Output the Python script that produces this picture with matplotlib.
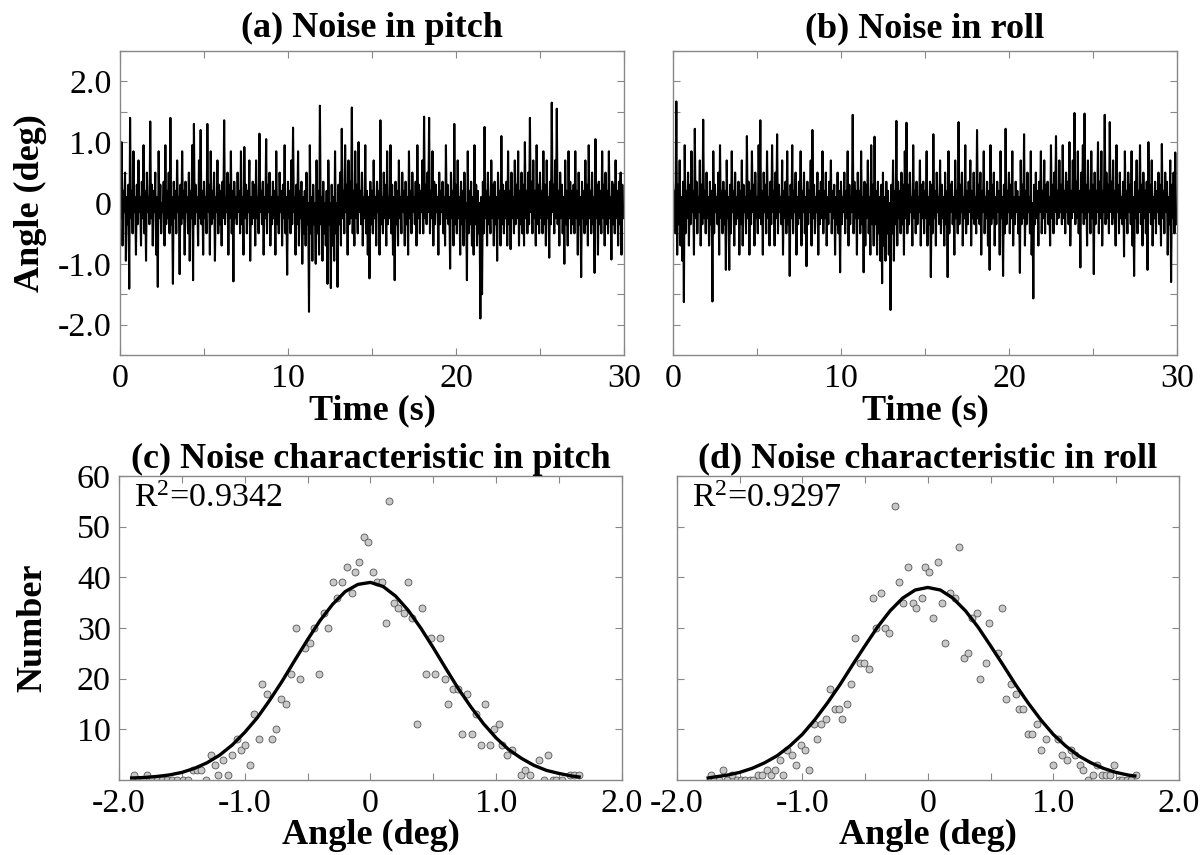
# -*- coding: utf-8 -*-
"""Noise in pitch and roll, with histograms and Gaussian fits."""

import numpy as np
import matplotlib.pyplot as plt

# Data -----------------------------------------------------------------

# The noise traces are digitised as alternating upper and lower
# excursions: *_hi at t = 0, 0.1, 0.2 ... s, *_lo half a step later.
dt = 0.1

pitch_hi = [
    0.35, 1.0, 0.2, 0.5, 0.1, 0.3, 1.4, 0.2, 0.85, 0.1,
    0.3, 0.7, 0.1, 0.35, 0.95, 0.2, 0.5, 0.1, 1.34, 0.3,
    0.2, 0.5, 0.1, 0.85, 0.3, 0.0, 0.35, 0.95, 0.2, 0.5,
    1.4, 0.1, 0.35, 0.2, 0.7, 0.1, 0.3, 0.85, 0.2, 0.35,
    0.1, 0.5, 0.2, 0.95, 1.3, 0.3, 0.1, 0.7, 1.2, 0.2,
    0.35, 0.1, 1.3, 0.3, 0.85, 0.2, 0.5, 0.1, 0.7, 0.3,
    0.2, 0.35, 1.36, 0.1, 0.5, 0.3, 0.85, 0.2, 0.35, 0.1,
    0.5, 0.2, 0.85, 0.1, 0.92, 0.3, 0.2, 0.7, 0.1, 0.35,
    0.3, 0.7, 0.1, 1.14, 0.2, 0.35, 0.1, 1.05, 0.3, 0.5,
    0.1, 0.35, 0.2, 0.85, 0.1, 0.5, 0.2, 0.3, 0.95, 0.1,
    0.35, 0.2, 0.7, 1.24, 0.1, 0.3, 0.85, 0.2, 0.35, 0.1,
    0.2, 0.5, 0.0, 0.95, 0.1, 0.3, 0.0, 0.7, 0.2, 1.6,
    0.1, 0.35, 0.0, 0.2, 0.7, 0.0, 0.3, 0.1, 0.85, 0.0,
    0.3, 0.5, 1.22, 0.2, 0.95, 0.3, 0.7, 0.35, 1.57, 0.2,
    0.85, 0.3, 1.0, 0.2, 0.5, 0.1, 0.95, 0.2, 0.1, 0.35,
    0.2, 0.7, 0.1, 0.35, 0.2, 1.36, 0.1, 0.5, 0.3, 0.85,
    0.1, 0.95, 0.3, 0.1, 0.35, 0.2, 0.7, 0.1, 0.5, 0.2,
    0.35, 0.1, 0.85, 0.2, 0.5, 0.1, 0.35, 0.95, 0.3, 0.2,
    0.7, 1.42, 0.3, 0.5, 1.4, 0.2, 0.85, 0.35, 0.3, 0.1,
    0.5, 0.2, 0.35, 0.1, 0.95, 0.3, 0.1, 0.5, 0.2, 1.3,
    0.3, 0.7, 0.1, 0.35, 0.2, 0.5, 0.0, 0.85, 0.2, 0.35,
    0.1, 0.95, 0.3, 0.2, 0.0, 0.1, 0.35, 1.25, 0.2, 0.5,
    0.1, 0.7, 0.3, 0.35, 0.1, 0.5, 0.2, 1.1, 0.3, 0.2,
    0.35, 0.85, 0.2, 0.5, 0.1, 0.7, 0.3, 0.85, 0.2, 0.5,
    0.3, 1.0, 0.2, 0.5, 1.4, 0.35, 0.7, 0.2, 0.95, 0.3,
    0.5, 0.2, 0.85, 0.3, 0.7, 0.1, 0.35, 1.65, 0.3, 0.7,
    1.55, 0.2, 0.5, 0.3, 0.1, 0.7, 0.2, 0.85, 0.35, 0.2,
    0.3, 0.85, 0.2, 0.5, 0.1, 0.35, 0.2, 0.7, 0.3, 0.95,
    0.2, 0.5, 0.1, 1.05, 0.3, 0.35, 0.2, 0.85, 0.3, 0.5,
    0.2, 0.85, 0.1, 0.35, 0.3, 0.7, 0.2, 0.35, 0.5, 0.3,
]
pitch_lo = [
    -0.25, -0.7, -0.15, -0.95, -0.35, -1.41, -0.25, -0.5, -0.15, -0.85,
    -0.35, -0.15, -0.7, -0.25, -0.5, -0.95, -0.15, -0.35, -0.25, -0.7,
    -0.15, -0.85, -1.38, -0.25, -0.5, -0.15, -0.7, -0.35, -0.25, -0.5,
    -0.35, -1.33, -0.25, -0.5, -0.15, -1.17, -0.35, -0.25, -0.85, -0.15,
    -0.5, -0.95, -0.25, -1.27, -0.35, -0.15, -0.7, -0.25, -0.35, -0.85,
    -0.25, -0.5, -0.15, -0.85, -0.35, -0.25, -0.95, -0.15, -0.5, -0.35,
    -0.7, -0.25, -0.35, -0.15, -0.85, -0.25, -0.5, -1.29, -0.25, -0.35,
    -0.15, -0.5, -0.35, -0.85, -0.25, -0.5, -0.15, -0.95, -0.35, -0.25,
    -0.7, -0.25, -0.5, -0.15, -0.35, -0.85, -0.25, -0.5, -0.15, -0.7,
    -0.35, -0.25, -0.85, -0.35, -0.5, -0.15, -0.7, -0.25, -0.5, -1.18,
    -0.25, -0.5, -0.35, -0.15, -0.85, -0.35, -0.7, -0.25, -1.0, -0.5,
    -0.7, -0.35, -1.79, -0.5, -0.95, -0.35, -1.0, -0.5, -0.85, -0.35,
    -0.95, -0.5, -0.7, -1.33, -0.35, -1.4, -0.7, -0.95, -0.5, -1.38,
    -0.35, -0.7, -0.25, -0.5, -0.15, -0.85, -0.35, -0.25, -0.5, -0.7,
    -0.25, -0.5, -0.15, -0.35, -0.7, -0.25, -0.5, -0.85, -1.24, -0.35,
    -0.5, -0.25, -0.7, -0.15, -0.85, -0.35, -0.5, -0.25, -0.7, -0.35,
    -0.25, -0.5, -0.85, -1.27, -0.35, -0.7, -0.25, -0.5, -0.15, -0.7,
    -0.35, -0.85, -0.25, -0.5, -0.15, -0.35, -0.7, -0.25, -0.5, -0.15,
    -0.5, -0.25, -0.35, -0.15, -0.5, -0.25, -0.7, -0.35, -0.15, -0.85,
    -0.35, -0.15, -0.5, -0.7, -0.25, -0.35, -1.08, -0.25, -0.7, -0.35,
    -0.5, -0.25, -0.85, -0.35, -0.7, -0.25, -1.27, -0.5, -0.35, -0.7,
    -0.85, -0.35, -0.7, -0.5, -1.9, -1.5, -0.5, -0.25, -0.7, -0.35,
    -0.5, -0.25, -0.7, -0.35, -0.95, -0.25, -0.7, -0.35, -0.5, -0.25,
    -0.7, -0.35, -0.76, -0.25, -0.5, -0.35, -0.25, -0.7, -0.35, -0.5,
    -0.7, -0.25, -0.5, -0.35, -0.15, -0.5, -0.25, -0.7, -0.35, -0.5,
    -0.25, -0.5, -0.35, -0.7, -0.25, -0.9, -0.35, -0.15, -0.5, -0.25,
    -0.35, -0.7, -0.25, -0.5, -1.0, -0.35, -0.7, -0.25, -0.5, -0.35,
    -0.5, -0.25, -0.85, -0.35, -1.22, -0.25, -0.5, -0.35, -0.7, -0.25,
    -0.5, -0.35, -1.15, -0.25, -0.85, -0.35, -0.5, -0.25, -0.7, -0.35,
    -0.5, -0.25, -0.93, -0.35, -0.5, -0.25, -0.7, -0.35, -0.85, -0.25,
]

roll_hi = [
    0.35, 0.2, 1.67, 0.3, 0.7, 0.1, 0.35, 0.95, 0.2, 0.5,
    0.3, 0.85, 0.2, 1.22, 0.35, 0.1, 0.7, 0.3, 1.37, 0.2,
    0.5, 0.1, 0.35, 0.2, 0.85, 0.3, 0.1, 0.5, 0.95, 0.2,
    0.35, 0.2, 0.7, 0.1, 0.3, 0.85, 0.2, 0.5, 0.1, 0.35,
    0.2, 0.7, 0.3, 0.1, 1.1, 0.35, 0.2, 0.85, 0.3, 0.5,
    0.1, 0.95, 1.36, 0.2, 0.5, 0.3, 0.85, 0.1, 0.35, 0.95,
    0.2, 0.5, 1.13, 0.3, 0.1, 0.7, 0.2, 0.35, 0.85, 0.1,
    0.3, 0.95, 0.2, 0.5, 0.1, 0.35, 0.85, 0.2, 0.5, 0.1,
    0.35, 0.2, 0.7, 1.2, 0.3, 0.1, 0.5, 0.2, 0.35, 0.85,
    0.2, 0.5, 0.1, 0.35, 0.7, 0.2, 0.3, 0.1, 0.5, 0.2,
    0.35, 0.1, 0.5, 0.2, 0.85, 0.3, 0.1, 1.45, 0.35, 0.2,
    0.5, 0.2, 0.85, 0.1, 0.35, 0.3, 0.7, 0.1, 0.95, 0.3,
    1.09, 0.2, 0.35, 0.1, 0.3, 0.5, 0.1, 0.35, 0.2, 0.0,
    0.3, 0.7, 0.2, 1.35, 0.35, 0.2, 0.5, 0.3, 0.85, 1.32,
    0.3, 0.5, 0.1, 0.95, 0.2, 0.35, 0.1, 0.7, 0.3, 0.35,
    0.2, 0.85, 0.1, 0.35, 0.3, 1.13, 0.2, 0.5, 0.1, 0.7,
    0.3, 0.1, 0.5, 0.2, 0.85, 0.3, 0.35, 0.1, 0.7, 0.2,
    1.33, 0.3, 0.5, 0.1, 0.95, 0.2, 0.35, 0.7, 0.2, 0.5,
    0.1, 1.2, 0.3, 0.5, 0.2, 0.85, 0.1, 0.35, 0.2, 0.95,
    0.3, 0.5, 0.1, 0.35, 0.2, 0.85, 0.1, 0.3, 1.22, 0.2,
    0.5, 0.3, 0.85, 0.1, 0.35, 0.2, 0.1, 0.7, 0.3, 1.13,
    0.2, 0.5, 0.1, 0.85, 0.0, 0.3, 0.5, 0.2, 0.35, 0.85,
    0.2, 0.7, 0.3, 0.35, 0.1, 0.95, 0.3, 0.5, 1.1, 0.2,
    0.7, 0.3, 0.95, 0.2, 0.5, 0.35, 1.0, 0.2, 0.7, 1.48,
    0.35, 0.85, 0.2, 0.5, 0.95, 1.47, 0.3, 0.7, 0.2, 0.85,
    0.3, 0.5, 0.2, 1.0, 0.35, 0.85, 0.2, 1.45, 0.5, 0.3,
    1.33, 0.35, 0.7, 0.2, 0.95, 0.3, 0.5, 0.1, 0.35, 0.85,
    0.2, 0.5, 0.3, 0.85, 0.1, 0.35, 0.7, 0.2, 0.95, 0.3,
    0.5, 0.2, 0.35, 1.0, 0.3, 0.7, 0.1, 0.35, 0.2, 0.5,
    0.3, 0.97, 0.2, 0.5, 0.35, 0.1, 0.7, 0.3, 0.5, 0.83,
]
roll_lo = [
    -0.15, -0.5, -0.85, -0.35, -0.7, -0.95, -1.63, -0.5, -0.25, -0.7,
    -0.35, -0.15, -0.85, -0.25, -0.5, -0.15, -0.7, -0.35, -0.25, -0.5,
    -0.25, -0.7, -0.35, -1.62, -0.5, -0.15, -0.35, -0.85, -0.25, -0.5,
    -0.35, -1.1, -0.25, -1.1, -0.5, -0.15, -0.7, -0.35, -0.25, -0.85,
    -0.35, -0.7, -0.15, -0.5, -0.25, -0.85, -0.35, -0.15, -0.7, -0.25,
    -0.5, -0.25, -0.35, -0.85, -0.15, -0.5, -0.25, -0.7, -0.35, -0.15,
    -0.7, -0.25, -0.5, -0.15, -0.35, -0.85, -0.25, -0.5, -0.35, -1.2,
    -0.25, -0.5, -0.15, -0.85, -0.35, -0.25, -0.7, -0.15, -0.5, -1.04,
    -0.35, -0.15, -0.7, -0.25, -0.5, -0.15, -0.85, -0.35, -0.25, -0.5,
    -0.25, -0.7, -0.35, -0.15, -0.5, -0.25, -0.85, -0.35, -0.5, -1.14,
    -0.35, -0.15, -0.5, -0.25, -0.7, -0.35, -0.15, -0.5, -0.25, -0.85,
    -0.25, -0.5, -0.35, -1.14, -0.7, -0.25, -0.5, -0.85, -0.35, -0.7,
    -0.35, -0.85, -0.5, -0.95, -1.32, -0.7, -0.95, -0.5, -0.85, -1.76,
    -0.5, -0.95, -0.35, -0.7, -0.25, -0.5, -0.35, -0.85, -0.25, -0.5,
    -0.35, -0.15, -0.7, -0.25, -0.5, -0.35, -0.15, -0.7, -0.25, -0.5,
    -0.25, -0.7, -0.35, -1.22, -0.5, -0.25, -0.7, -0.15, -0.35, -0.5,
    -0.25, -0.7, -0.35, -1.22, -0.5, -0.15, -0.35, -0.85, -0.25, -0.5,
    -0.35, -0.15, -0.7, -0.25, -0.5, -0.35, -0.15, -0.7, -0.25, -0.35,
    -0.5, -0.25, -0.35, -0.85, -0.15, -0.5, -0.25, -0.7, -1.1, -0.35,
    -0.25, -0.7, -0.35, -0.15, -0.85, -0.25, -1.2, -0.5, -0.35, -0.15,
    -0.5, -0.25, -0.7, -0.35, -0.15, -0.5, -1.15, -0.35, -0.25, -0.7,
    -0.35, -0.15, -0.5, -0.85, -1.57, -0.35, -0.25, -0.7, -0.15, -0.5,
    -0.25, -0.5, -0.15, -0.35, -0.7, -0.25, -0.5, -0.15, -0.35, -0.25,
    -0.15, -0.35, -0.25, -0.5, -0.15, -0.35, -0.7, -0.25, -0.15, -0.35,
    -0.25, -0.5, -1.06, -0.15, -0.35, -0.25, -0.7, -0.15, -0.5, -0.25,
    -1.17, -0.35, -0.15, -0.5, -0.25, -0.7, -0.15, -0.35, -0.25, -0.5,
    -0.15, -0.35, -0.25, -0.7, -0.15, -0.5, -0.25, -0.35, -0.88, -0.25,
    -0.5, -0.15, -0.35, -0.7, -1.2, -0.25, -0.5, -0.15, -0.35, -0.7,
    -0.25, -0.5, -1.1, -0.15, -0.35, -0.7, -0.25, -0.5, -0.15, -0.35,
    -0.7, -0.25, -0.5, -0.15, -0.85, -0.35, -1.3, -0.25, -0.5, -0.35,
]

# Histogram of pitch noise (bin centre in deg, count)
pitch_bin = [
    -1.88, -1.85, -1.81, -1.78, -1.74, -1.70, -1.66, -1.62, -1.58, -1.54,
    -1.49, -1.45, -1.41, -1.38, -1.35, -1.31, -1.27, -1.24, -1.21, -1.17,
    -1.13, -1.10, -1.06, -1.03, -1.00, -0.96, -0.93, -0.89, -0.86, -0.82,
    -0.78, -0.75, -0.71, -0.67, -0.63, -0.59, -0.56, -0.52, -0.48, -0.45,
    -0.41, -0.37, -0.34, -0.30, -0.27, -0.23, -0.19, -0.15, -0.12, -0.09,
    -0.05, -0.02, 0.02, 0.05, 0.09, 0.12, 0.15, 0.19, 0.22, 0.27,
    0.30, 0.33, 0.37, 0.41, 0.44, 0.48, 0.51, 0.55, 0.59, 0.62,
    0.66, 0.70, 0.73, 0.77, 0.81, 0.84, 0.88, 0.91, 0.95, 0.98,
    1.02, 1.05, 1.09, 1.13, 1.20, 1.23, 1.27, 1.34, 1.38, 1.41,
    1.45, 1.48, 1.52, 1.59, 1.62, 1.66,
]
pitch_cnt = [
    1, 0, 0, 1, 0, 0, 0, 0, 0, 0,
    0, 0, 2, 2, 2, 0, 5, 3, 1, 4,
    1, 5, 8, 6, 7, 3, 13, 8, 19, 17,
    8, 10, 16, 15, 21, 30, 20, 26, 27, 30,
    21, 33, 30, 39, 36, 39, 42, 37, 41, 43,
    48, 47, 41, 39, 39, 31, 55, 35, 34, 33,
    39, 32, 11, 34, 21, 28, 21, 28, 20, 15,
    18, 18, 9, 17, 9, 13, 7, 15, 7, 10,
    11, 7, 5, 6, 1, 2, 1, 4, 0, 5,
    0, 0, 0, 1, 1, 1,
]

# Histogram of roll noise (bin centre in deg, count)
roll_bin = [
    -1.73, -1.70, -1.66, -1.63, -1.60, -1.56, -1.52, -1.49, -1.46, -1.42,
    -1.39, -1.35, -1.32, -1.28, -1.25, -1.22, -1.18, -1.15, -1.12, -1.08,
    -1.05, -1.01, -0.98, -0.95, -0.91, -0.88, -0.85, -0.81, -0.78, -0.74,
    -0.71, -0.68, -0.64, -0.61, -0.58, -0.54, -0.51, -0.47, -0.44, -0.41,
    -0.37, -0.34, -0.31, -0.26, -0.23, -0.20, -0.16, -0.12, -0.09, -0.05,
    -0.02, 0.01, 0.04, 0.08, 0.11, 0.14, 0.18, 0.22, 0.25, 0.29,
    0.32, 0.35, 0.39, 0.42, 0.46, 0.49, 0.56, 0.59, 0.62, 0.66,
    0.70, 0.73, 0.76, 0.80, 0.83, 0.87, 0.90, 0.94, 1.00, 1.04,
    1.07, 1.11, 1.14, 1.17, 1.21, 1.24, 1.28, 1.32, 1.35, 1.39,
    1.42, 1.45, 1.48, 1.52, 1.55, 1.59, 1.62, 1.66,
]
roll_cnt = [
    1, 0, 0, 2, 0, 1, 0, 0, 0, 0,
    0, 1, 1, 2, 1, 2, 4, 1, 6, 5,
    3, 7, 6, 2, 11, 8, 11, 12, 18, 14,
    14, 12, 15, 19, 28, 23, 23, 22, 36, 30,
    37, 30, 29, 54, 39, 35, 42, 35, 34, 36,
    42, 41, 32, 43, 35, 27, 37, 36, 46, 24,
    25, 32, 33, 20, 23, 31, 25, 34, 16, 19,
    17, 14, 14, 9, 9, 11, 6, 8, 3, 8,
    5, 4, 6, 5, 3, 2, 0, 1, 3, 1,
    1, 1, 3, 0, 0, 0, 0, 1,
]

# Gaussian fit curves
pitch_fit_x = [
    -1.9, -1.8, -1.7, -1.6, -1.5, -1.4, -1.3, -1.2, -1.1, -1.0,
    -0.9, -0.8, -0.7, -0.6, -0.5, -0.4, -0.3, -0.2, -0.1, 0.0,
    0.1, 0.2, 0.3, 0.4, 0.5, 0.6, 0.7, 0.8, 0.9, 1.0,
    1.1, 1.2, 1.3, 1.4, 1.5, 1.6, 1.66,
]
pitch_fit_y = [
    0.4, 0.5, 0.7, 1.0, 1.5, 2.3, 3.4, 4.9, 6.9, 9.4,
    12.3, 15.8, 19.6, 23.7, 27.7, 31.5, 34.7, 37.2, 38.6, 39.0,
    38.2, 36.3, 33.5, 30.0, 26.1, 22.0, 18.0, 14.4, 11.1, 8.3,
    6.0, 4.3, 2.9, 1.9, 1.3, 0.8, 0.6,
]
roll_fit_x = [
    -1.75, -1.7, -1.6, -1.5, -1.4, -1.3, -1.2, -1.1, -1.0,
    -0.9, -0.8, -0.7, -0.6, -0.5, -0.4, -0.3, -0.2, -0.1, 0.0,
    0.1, 0.2, 0.3, 0.4, 0.5, 0.6, 0.7, 0.8, 0.9, 1.0,
    1.1, 1.2, 1.3, 1.4, 1.5, 1.6, 1.65,
]
roll_fit_y = [
    0.4, 0.6, 0.96, 1.5, 2.3, 3.4, 4.8, 6.7, 9.0,
    11.9, 15.2, 18.8, 22.7, 26.5, 30.2, 33.4, 35.9, 37.5, 38.0,
    37.5, 35.9, 33.4, 30.2, 26.5, 22.7, 18.8, 15.2, 11.9, 9.0,
    6.7, 4.8, 3.4, 2.3, 1.5, 0.96, 0.8,
]

r2_pitch = "0.9342"
r2_roll = "0.9297"

# Tick labels
time_ticks = [0, 5, 10, 15, 20, 25, 30]
time_labels = ["0", "", "10", "", "20", "", "30"]
angle_ticks = [-2.5, -2.0, -1.5, -1.0, -0.5, 0, 0.5, 1.0, 1.5, 2.0, 2.5]
angle_labels = ["", "-2.0", "", "-1.0", "", "0", "", "1.0", "", "2.0", ""]
hist_xticks = [-2.0, -1.5, -1.0, -0.5, 0, 0.5, 1.0, 1.5, 2.0]
hist_xlabels = ["-2.0", "", "-1.0", "", "0", "", "1.0", "", "2.0"]
count_ticks = [10, 20, 30, 40, 50, 60]
count_labels = ["10", "20", "30", "40", "50", "60"]


def interleave(hi, lo):
    """Merge upper and lower excursions into one trace."""
    t = np.empty(2 * len(hi))
    y = np.empty(2 * len(hi))
    t[0::2] = np.arange(len(hi)) * dt
    t[1::2] = np.arange(len(lo)) * dt + dt / 2
    y[0::2] = hi
    y[1::2] = lo
    return t, y


# Figure ---------------------------------------------------------------

plt.rcParams["font.family"] = ["Liberation Serif", "DejaVu Serif"]
plt.rcParams["mathtext.fontset"] = "custom"
plt.rcParams["mathtext.rm"] = "Liberation Serif"
plt.rcParams["mathtext.it"] = "Liberation Serif:italic"

FS = 24.5
TFS = 26
spine_col = "#888888"

fig = plt.figure(figsize=(12, 8.55), dpi=100)
ax_a = fig.add_axes([0.100, 0.5848, 0.420, 0.3556])
ax_b = fig.add_axes([0.5608, 0.5848, 0.420, 0.3556])
ax_c = fig.add_axes([0.0992, 0.0877, 0.419, 0.3556])
ax_d = fig.add_axes([0.5640, 0.0877, 0.4183, 0.3556])


def style(ax):
    for s in ax.spines.values():
        s.set_color(spine_col)
        s.set_linewidth(1.0)
    ax.tick_params(direction="in", length=5, width=0.8, color=spine_col,
                   top=True, right=True, labelsize=FS, pad=6)


# Time series
for ax, hi, lo, title in [(ax_a, pitch_hi, pitch_lo, "(a) Noise in pitch"),
                          (ax_b, roll_hi, roll_lo, "(b) Noise in roll")]:
    t, y = interleave(hi, lo)
    ax.plot(t, y, color="black", lw=1.5)
    ax.set_xlim(0, 30)
    ax.set_ylim(-2.5, 2.5)
    ax.set_xticks(time_ticks)
    ax.set_xticklabels(time_labels)
    ax.set_yticks(angle_ticks)
    ax.set_title(title, fontsize=TFS, fontweight="bold", pad=10)
    ax.set_xlabel("Time (s)", fontsize=TFS, fontweight="bold", labelpad=0)
    style(ax)
ax_a.set_yticklabels(angle_labels)
ax_b.set_yticklabels([])
ax_a.set_ylabel("Angle (deg)", fontsize=TFS, fontweight="bold", labelpad=8)

# Histograms with fits
for ax, bx, by, fx, fy, r2, title in [
        (ax_c, pitch_bin, pitch_cnt, pitch_fit_x, pitch_fit_y, r2_pitch,
         "(c) Noise characteristic in pitch"),
        (ax_d, roll_bin, roll_cnt, roll_fit_x, roll_fit_y, r2_roll,
         "(d) Noise characteristic in roll")]:
    ax.plot(bx, by, "o", ms=5, mfc="#c8c8c8", mec="#555555", mew=0.6,
            zorder=2)
    ax.plot(fx, fy, color="black", lw=2.4, zorder=3)
    ax.set_xlim(-2.0, 2.0)
    ax.set_ylim(0, 60)
    ax.set_xticks(hist_xticks)
    ax.set_xticklabels(hist_xlabels)
    ax.set_yticks(count_ticks)
    ax.set_title(title, fontsize=TFS, fontweight="bold", pad=6)
    ax.set_xlabel("Angle (deg)", fontsize=TFS, fontweight="bold", labelpad=0)
    ax.text(0.03, 0.975, r"R$^{2}$=" + r2, transform=ax.transAxes,
            fontsize=FS, va="top", ha="left")
    style(ax)
ax_c.set_yticklabels(count_labels)
ax_d.set_yticklabels([])
ax_c.set_ylabel("Number", fontsize=TFS, fontweight="bold", labelpad=20)

plt.savefig("out.png", dpi=100)
